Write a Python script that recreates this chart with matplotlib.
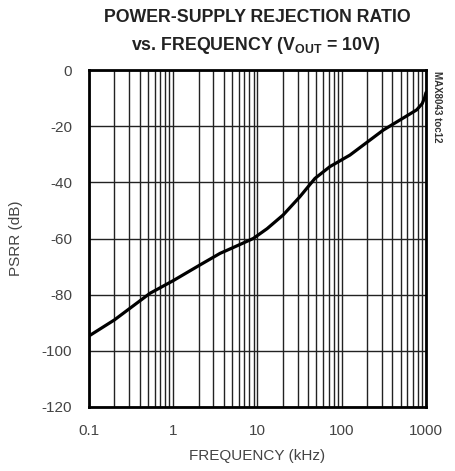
import matplotlib
matplotlib.use("Agg")
import matplotlib.pyplot as plt
from matplotlib import font_manager
import numpy as np

fam = "Liberation Sans"
plt.rcParams['font.family'] = [fam, 'DejaVu Sans']
plt.rcParams['mathtext.fontset'] = 'custom'
plt.rcParams['mathtext.rm'] = fam + ':bold'

freq_khz = [0.1, 0.2, 0.53, 1.0, 2.08, 3.59, 5.16, 8.9, 13.0, 20.2, 31.9, 48.1,
            72.4, 125, 311, 775, 900, 960, 1000]
psrr_db = [-94.7, -89.0, -79.5, -75.0, -69.4, -65.3, -63.2, -60.0, -56.5, -51.6,
           -45.1, -38.6, -34.4, -30.3, -21.4, -14.2, -12.0, -10.0, -8.0]

xticks = [0.1, 1, 10, 100, 1000]
xticklabels = ["0.1", "1", "10", "100", "1000"]
yticks = [0, -20, -40, -60, -80, -100, -120]

fig = plt.figure(figsize=(4.56, 4.71), dpi=100)
ax = fig.add_axes([89/456, 1-407/471, 337/456, 337/471])
ax.set_xscale('log')
ax.set_xlim(0.1, 1000)
ax.set_ylim(-120, 0)
ax.plot(freq_khz, psrr_db, color='black', lw=2.3, solid_capstyle='round', zorder=5)
ax.set_xticks(xticks)
ax.set_xticklabels(xticklabels)
ax.set_yticks(yticks)
ax.set_yticklabels([str(v) for v in yticks])
ax.xaxis.set_minor_locator(matplotlib.ticker.LogLocator(base=10, subs=np.arange(2, 10)))
ax.xaxis.set_minor_formatter(matplotlib.ticker.NullFormatter())
ax.grid(True, which='both', axis='x', color='#222222', lw=1.0)
ax.grid(True, which='major', axis='y', color='#222222', lw=1.0)
ax.tick_params(which='both', length=0, labelsize=11, colors='#444444')
ax.tick_params(axis='x', pad=12)
ax.tick_params(axis='y', pad=12)
for s in ax.spines.values():
    s.set_linewidth(2)
    s.set_color('black')
ax.set_xlabel("FREQUENCY (kHz)", fontsize=11, color='#444444', va='center')
ax.xaxis.set_label_coords(0.5, -(456-407)/337)
ax.set_ylabel("PSRR (dB)", fontsize=11, color='#444444', va='center')
ax.yaxis.set_label_coords((16-89)/337, 0.5)

fig.text(257/456, 1-18/471, "POWER-SUPPLY REJECTION RATIO", ha='center', va='center',
         fontsize=12.8, fontweight='bold', color='#222222')
fig.text(256/456, 1-45/471, r"vs. FREQUENCY ($\mathrm{V_{OUT}}$ = 10V)", ha='center', va='center',
         fontsize=12.8, fontweight='bold', color='#222222')
fig.text(437/456, 1-107/471, "MAX8043 toc12", rotation=270, ha='center', va='center',
         fontsize=7, fontweight='bold', color='#333333')

fig.savefig("out.png", dpi=100)
